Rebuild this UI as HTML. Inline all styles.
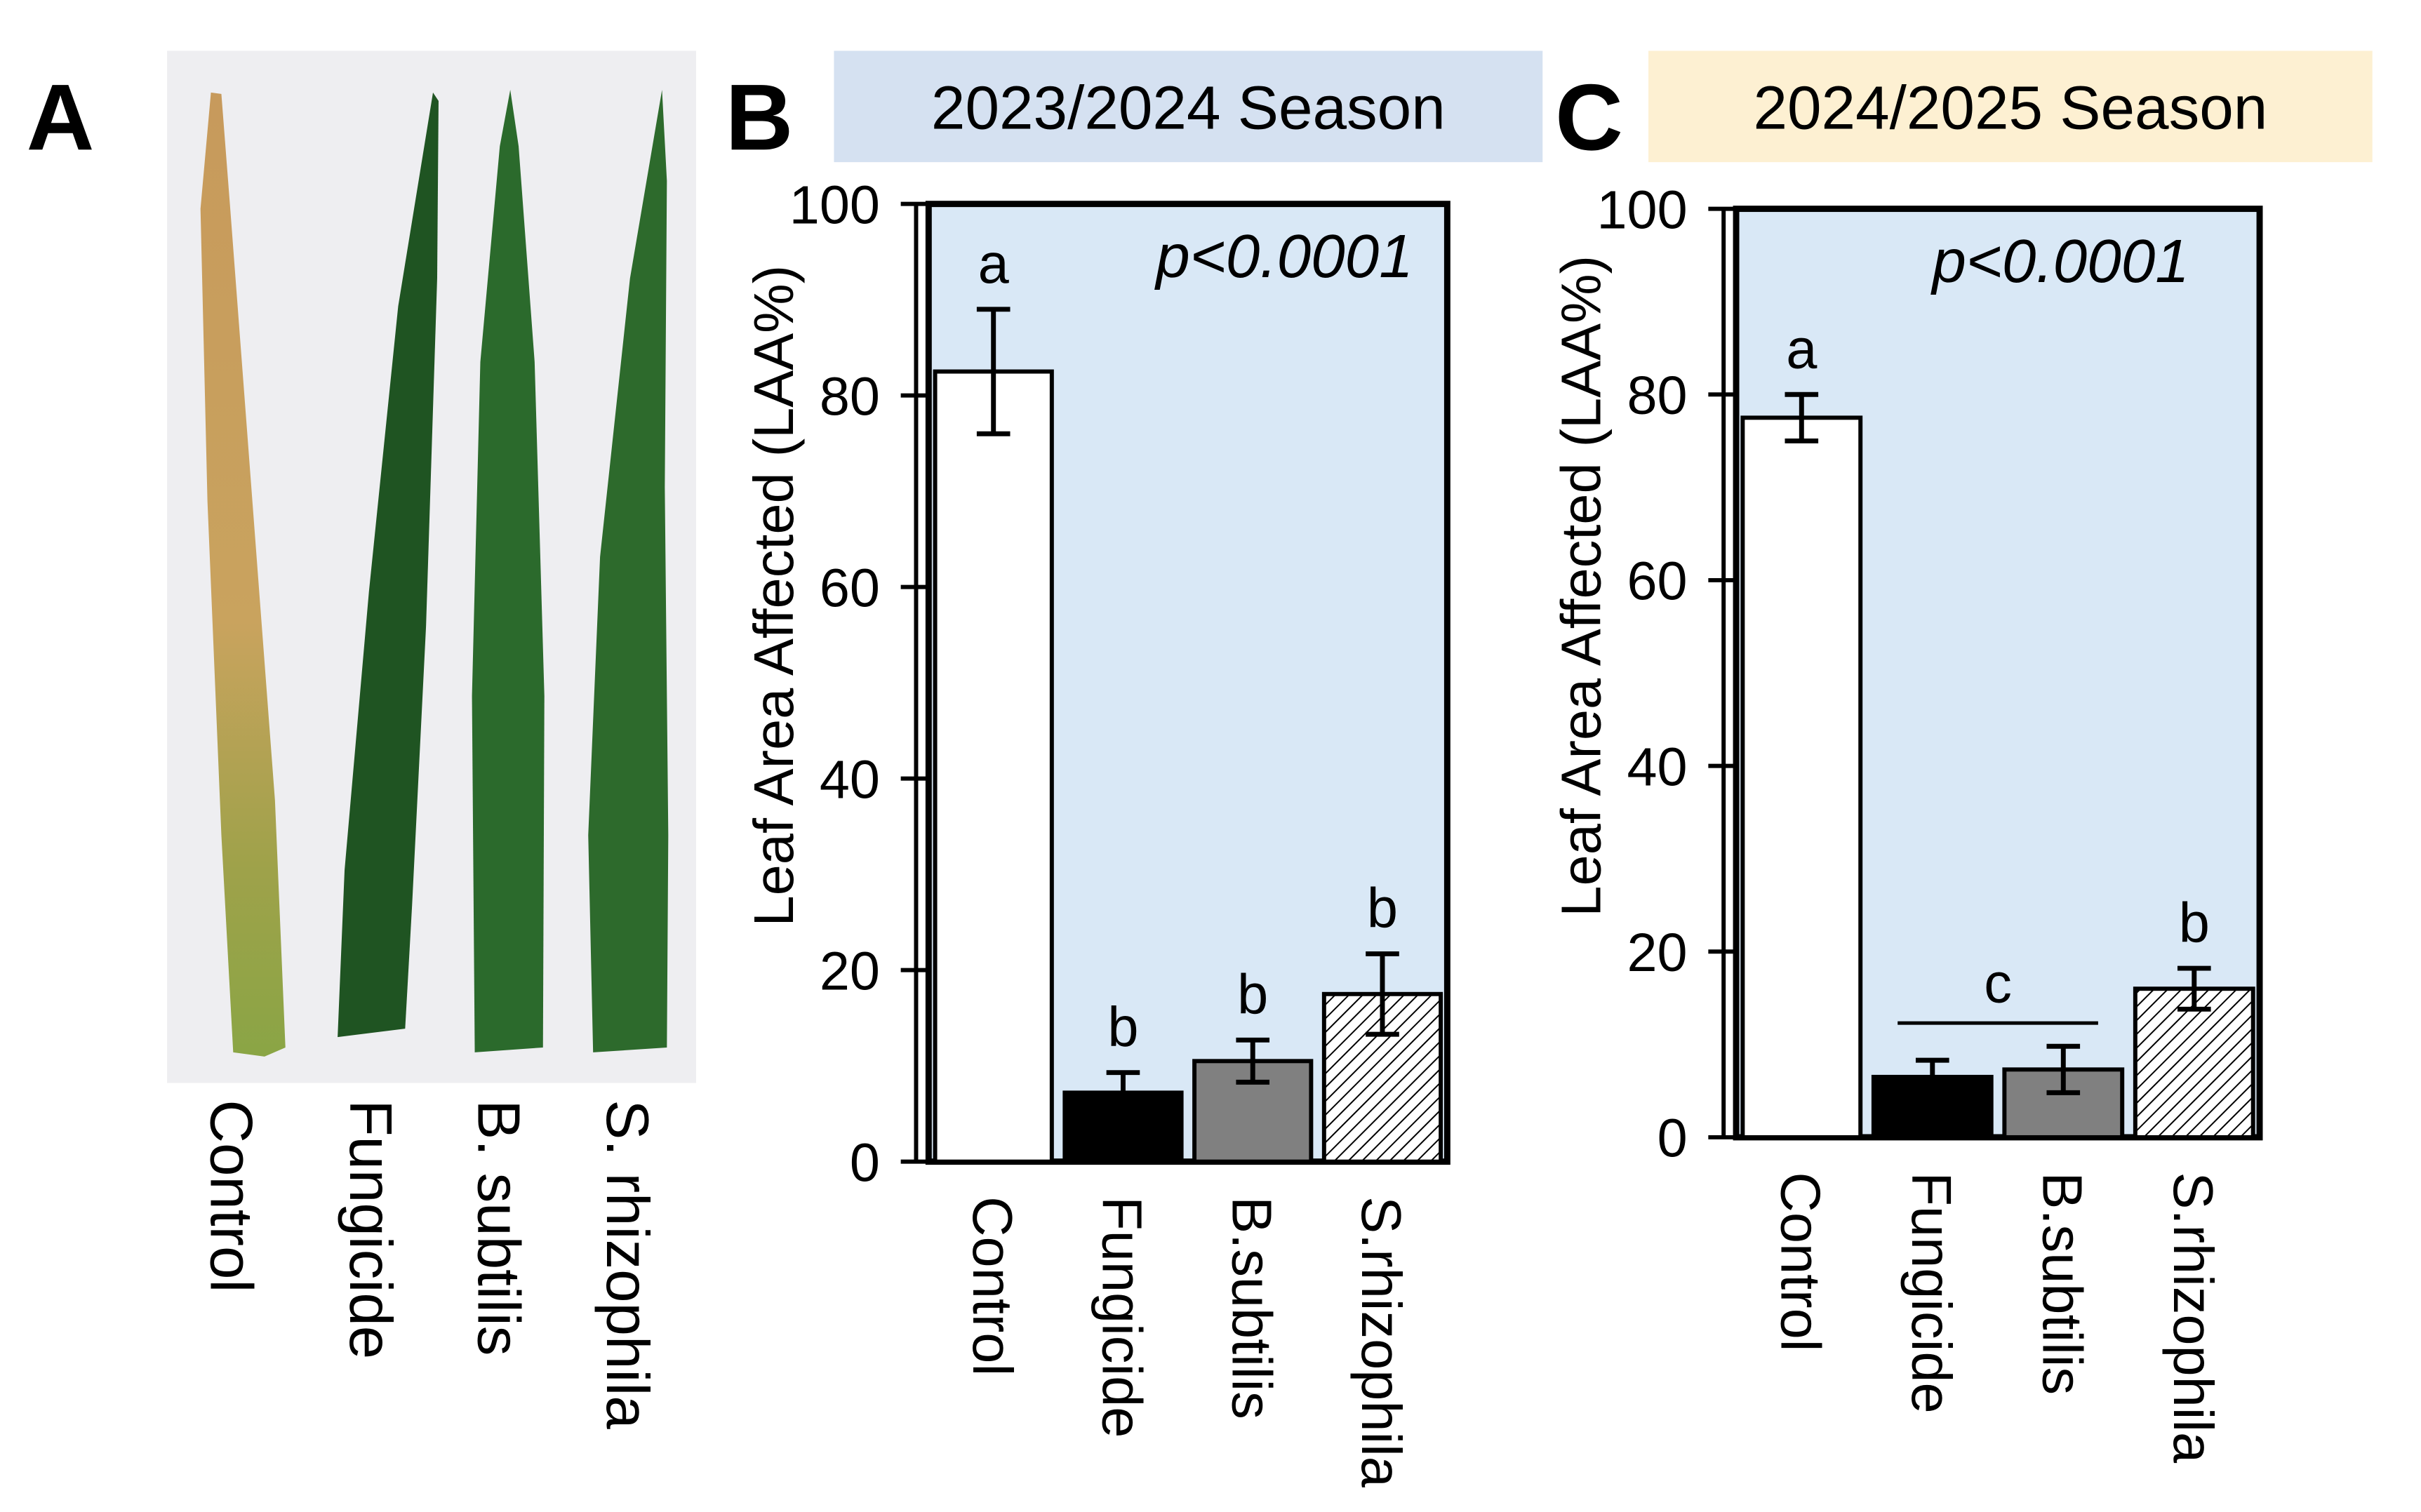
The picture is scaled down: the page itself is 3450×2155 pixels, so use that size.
<!DOCTYPE html>
<html><head><meta charset="utf-8">
<style>
html,body{margin:0;padding:0;background:#fff;}
svg{display:block;font-family:"Liberation Sans",Arial,sans-serif;}
</style></head>
<body>
<svg id="fig" width="3450" height="2155" viewBox="0 0 3450 2155" xmlns="http://www.w3.org/2000/svg">
<defs>
<pattern id="hatch" patternUnits="userSpaceOnUse" width="14" height="14" patternTransform="rotate(45)">
<rect width="14" height="14" fill="#fff"/><line x1="0" y1="0" x2="0" y2="14" stroke="#000" stroke-width="4"/>
</pattern>
<linearGradient id="tan" x1="0" y1="0" x2="0" y2="1">
<stop offset="0" stop-color="#c79a5c"/><stop offset="0.55" stop-color="#c9a35e"/><stop offset="0.8" stop-color="#9fa24a"/><stop offset="1" stop-color="#8aa545"/>
</linearGradient>
</defs>
<g transform="scale(0.992)">
<g>
<text x="38" y="215" font-size="135" font-weight="bold">A</text>
<rect x="240" y="73" width="760" height="1483" fill="#eeeef1"/>
<path d="M303,133 L318,135 L330,290 L355,620 L395,1150 L410,1505 L380,1518 L335,1512 L318,1200 L298,720 L288,300 Z" fill="url(#tan)"/>
<path d="M622,133 L630,145 L628,400 L612,900 L592,1300 L582,1478 L485,1490 L495,1250 L530,850 L572,440 Z" fill="#1f5422"/>
<path d="M733,129 L745,210 L768,520 L782,1000 L780,1505 L682,1512 L678,1000 L690,520 L718,210 Z" fill="#2b6a2c"/>
<path d="M951,129 L958,260 L955,700 L960,1200 L958,1505 L852,1512 L845,1200 L862,800 L905,400 Z" fill="#2d6a2c"/>
<g font-size="86">
<text transform="translate(303,1580) rotate(90)">Control</text>
<text transform="translate(503,1580) rotate(90)">Fungicide</text>
<text transform="translate(687,1580) rotate(90)">B. subtilis</text>
<text transform="translate(872,1580) rotate(90)">S. rhizophila</text>
</g>
</g>
<g id="chartB"></g>
<g id="chartC"></g>
</g>
</svg>
<script>
const categories = ["Control","Fungicide","B.subtilis","S.rhizophila"];
const valuesB = [82.5, 7.2, 10.5, 17.5];
const errorsB = [6.5, 2.1, 2.2, 4.2];
const lettersB = ["a","b","b","b"];
const valuesC = [77.5, 6.5, 7.3, 16.0];
const errorsC = [2.5, 1.8, 2.5, 2.2];
const lettersC = ["a","","",""];
const yTicks = [0,20,40,60,80,100];
const fills = ["#ffffff","#000000","#808080","url(#hatch)"];

const NS = "http://www.w3.org/2000/svg";
function mk(parent, tag, attrs, text){
  const el = document.createElementNS(NS, tag);
  for (const k in attrs) el.setAttribute(k, attrs[k]);
  if (text !== undefined) el.textContent = text;
  parent.appendChild(el);
  return el;
}

function drawChart(g, cfg){
  const {L,R,T,B,vals,errs,letters,label,title,titleBg,hx,hw,px,pyP,season} = cfg;
  const y = v => B - (v/100)*(B-T);
  const slot = (R-L)/categories.length;
  const x = i => L + slot*i + slot/2;
  const hb = mk(g,"rect",{x:hx,y:73,width:hw,height:160,fill:titleBg});
  
  
  const ht = mk(g,"text",{x:hx+hw/2,y:185,"font-size":88,"text-anchor":"middle"},title);
  
  
  const pl = mk(g,"text",{x:px,y:215,"font-size":135,"font-weight":"bold"},label);
  
  
  const bg = mk(g,"rect",{x:L,y:T,width:R-L,height:B-T,fill:"#d9e8f6",stroke:"#000","stroke-width":9});
  
  
  const ax = mk(g,"line",{x1:L-18,x2:L-18,y1:T,y2:B,stroke:"#000","stroke-width":6});
  
  
  yTicks.forEach(t=>{
    const tl = mk(g,"line",{x1:L-40,x2:L,y1:y(t),y2:y(t),stroke:"#000","stroke-width":6});
    
    
    const tt = mk(g,"text",{x:L-70,y:y(t)+28,"font-size":78,"text-anchor":"end"},String(t));
    
    
  });
  const yt = mk(g,"text",{transform:`translate(${L-195},${(T+B)/2-125}) rotate(-90)`,"font-size":80,"text-anchor":"middle"},"Leaf Area Affected (LAA%)");
  
  
  const bw = slot*0.9;
  categories.forEach((c,i)=>{
    const b = mk(g,"rect",{x:x(i)-bw/2,y:y(vals[i]),width:bw,height:B-y(vals[i]),fill:fills[i],stroke:"#000","stroke-width":6});
    
    
    const top = y(vals[i]+errs[i]), bot = y(vals[i]-errs[i]);
    const e = mk(g,"path",{d:`M${x(i)},${top}V${bot}M${x(i)-24},${top}H${x(i)+24}M${x(i)-24},${bot}H${x(i)+24}`,stroke:"#000","stroke-width":7,fill:"none"});
    
    
    if (letters[i]){
      const lt = mk(g,"text",{x:x(i),y:top-38,"font-size":80,"text-anchor":"middle"},letters[i]);
      
      
    }
    const xl = mk(g,"text",{transform:`translate(${x(i)-29},${B+50}) rotate(90)`,"font-size":80},c);
    
    
  });
  const pv = mk(g,"text",{x:pyP,y:T+105,"font-size":88,"font-style":"italic","text-anchor":"end"},"p<0.0001");
  
  
  return {x,y};
}

const gb = document.getElementById("chartB");
drawChart(gb,{L:1334,R:2079,T:293,B:1669,vals:valuesB,errs:errorsB,letters:lettersB,label:"B",title:"2023/2024 Season",titleBg:"#d5e1f1",hx:1198,hw:1018,px:1042,pyP:2030,season:"season-2023"});

const gc = document.getElementById("chartC");
const ax = drawChart(gc,{L:2494,R:3246,T:300,B:1634,vals:valuesC,errs:errorsC,letters:lettersC,label:"C",title:"2024/2025 Season",titleBg:"#fdf0d2",hx:2368,hw:1040,px:2234,pyP:3145,season:"season-2024"});
const groupTop = Math.max(valuesC[1]+errorsC[1], valuesC[2]+errorsC[2]) + 2.5;
const cl = mk(gc,"line",{x1:ax.x(1)-50,x2:ax.x(2)+50,y1:ax.y(groupTop),y2:ax.y(groupTop),stroke:"#000","stroke-width":5});


const ct = mk(gc,"text",{x:(ax.x(1)+ax.x(2))/2,y:ax.y(groupTop)-30,"font-size":80,"text-anchor":"middle"},"c");


const sb = mk(gc,"text",{x:ax.x(3),y:ax.y(valuesC[3]+errorsC[3])-38,"font-size":80,"text-anchor":"middle"},"b");


</script>
</body></html>
